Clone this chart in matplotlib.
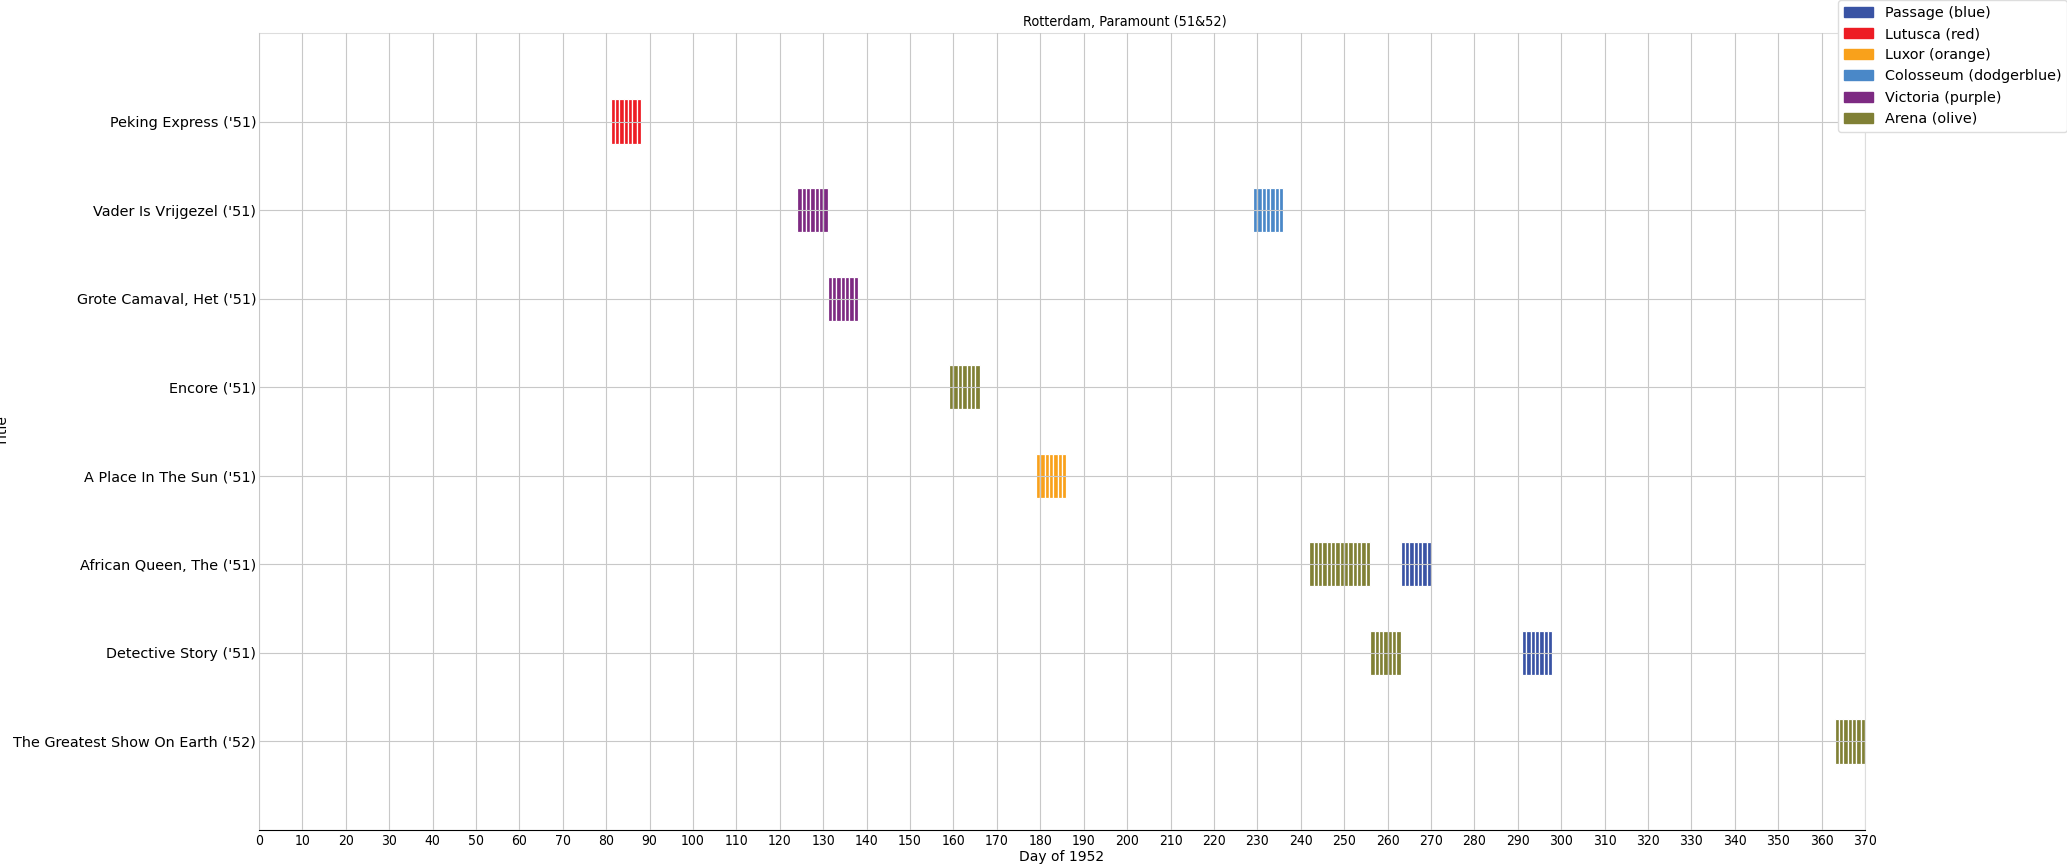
import matplotlib
matplotlib.use("Agg")
import matplotlib.pyplot as plt
from matplotlib.patches import Patch

# ---- data ----
titles = [
    "Peking Express ('51)",
    "Vader Is Vrijgezel ('51)",
    "Grote Camaval, Het ('51)",
    "Encore ('51)",
    "A Place In The Sun ('51)",
    "African Queen, The ('51)",
    "Detective Story ('51)",
    "The Greatest Show On Earth ('52)",
]
cinemas = ["Passage (blue)", "Lutusca (red)", "Luxor (orange)",
           "Colosseum (dodgerblue)", "Victoria (purple)", "Arena (olive)"]
cinema_colors = ["#3953a4", "#ed1c24", "#f9a11b", "#4a88c8", "#7d2a82", "#808035"]

# screening runs: film index, cinema index, first day, number of days
run_film = [0, 1, 1, 2, 3, 4, 5, 5, 6, 6, 7]
run_cinema = [1, 4, 3, 4, 5, 2, 5, 0, 5, 0, 5]
run_start = [81, 124, 229, 131, 159, 179, 242, 263, 256, 291, 363]
run_length = [7, 7, 7, 7, 7, 7, 14, 7, 7, 7, 7]

xticks = list(range(0, 371, 10))

# ---- figure ----
fig = plt.figure(figsize=(20.67, 8.64), dpi=100)
ax = fig.add_axes([259 / 2067, 1 - 830 / 864, (1865 - 259) / 2067, (830 - 33) / 864])

for f, c, s, n in zip(run_film, run_cinema, run_start, run_length):
    days = [s + k for k in range(n)]
    ax.barh([f] * n, [1] * n, left=days, height=0.5, align="center",
            color=cinema_colors[c], edgecolor="white", linewidth=0.9, zorder=1)

ax.set_xlim(0, 370)
ax.set_ylim(len(titles), -1)
ax.set_xticks(xticks)
ax.set_xticklabels([str(t) for t in xticks], fontsize=10, fontstretch="condensed")
ax.set_yticks(range(len(titles)))
ax.set_yticklabels(titles, fontsize=10.4)
ax.tick_params(axis="x", length=0, pad=3)
ax.tick_params(axis="y", length=0, pad=2)
ax.set_axisbelow(False)
ax.grid(True, color="#c8c8c8", linewidth=0.8, zorder=2)

for side in ["top", "left", "right"]:
    ax.spines[side].set_color("#dddddd")
    ax.spines[side].set_linewidth(0.8)
ax.spines["bottom"].set_color("black")
ax.spines["bottom"].set_linewidth(0.8)

ax.set_xlabel("Day of 1952", fontsize=10, labelpad=1)
ax.set_ylabel("Title", fontsize=10)
ax.yaxis.set_label_coords(-0.155, 0.5)

fig.text(1125 / 2067, 1 - 22 / 864, "Rotterdam, Paramount (51&52)",
         ha="center", va="center", fontsize=10.4, fontstretch="condensed")

handles = [Patch(facecolor=col, edgecolor=col, label=lab)
           for col, lab in zip(cinema_colors, cinemas)]
fig.legend(handles=handles, loc="upper right", bbox_to_anchor=(1.0, 1.0),
           fontsize=10.4, frameon=True, borderaxespad=0, framealpha=1,
           edgecolor="#dddddd")

fig.savefig("out.png", dpi=100)
